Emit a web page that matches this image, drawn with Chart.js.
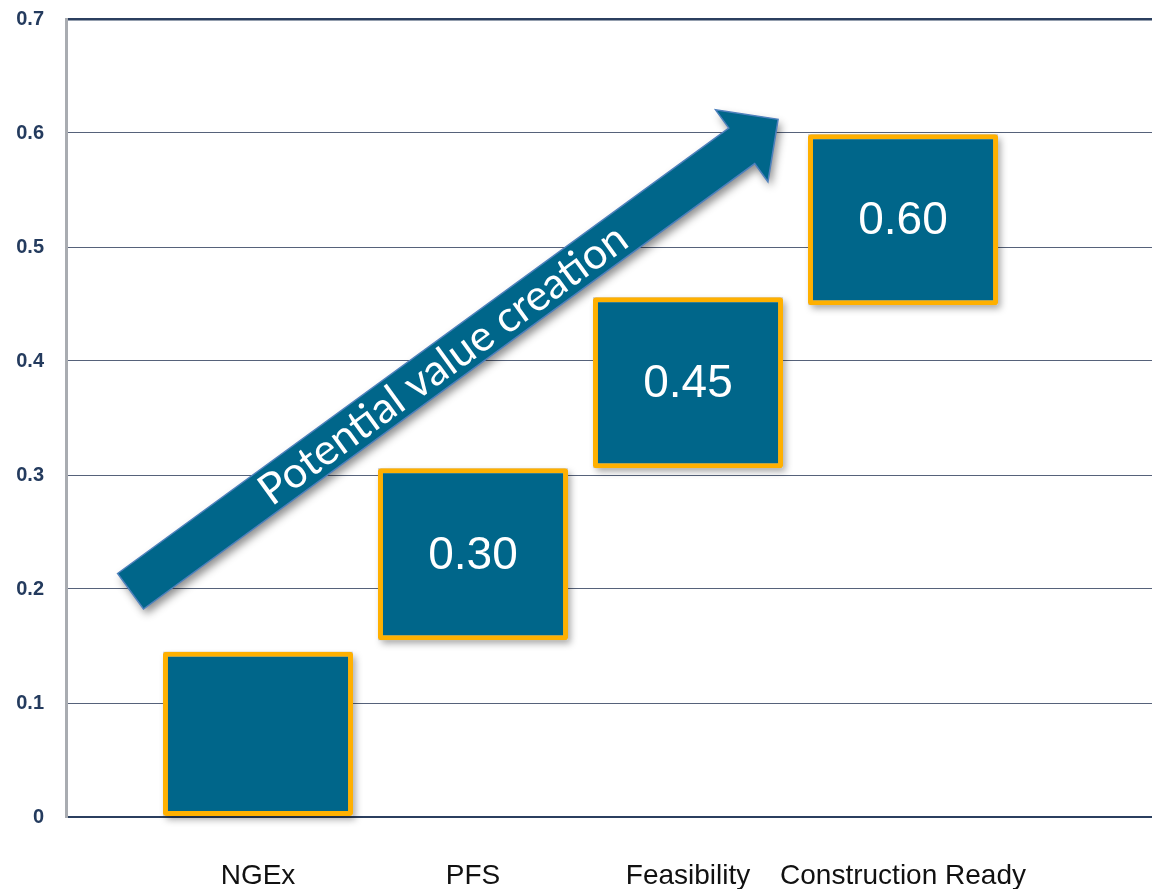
<!DOCTYPE html>
<html>
<head>
<meta charset="utf-8">
<script src="https://cdn.jsdelivr.net/npm/chart.js@4.4.1/dist/chart.umd.min.js"></script>
<style>
    html, body { margin: 0; padding: 0; background: #ffffff; }
    #wrap { width: 1152px; height: 889px; position: relative; }
</style>
</head>
<body>
<div id="wrap"><canvas id="stageChart"></canvas></div>
<script>
const categories = ['NGEx', 'PFS', 'Feasibility', 'Construction Ready'];
const barLows = [0, 0.155, 0.306, 0.449];
const barHighs = [0.145, 0.306, 0.456, 0.599];
const barLabels = ['', '0.30', '0.45', '0.60'];
const yTicks = [0, 0.1, 0.2, 0.3, 0.4, 0.5, 0.6, 0.7];

// arrow tail / tip in axis units (x = category index)
const arrowFrom = { x: -0.593, y: 0.198 };
const arrowTo = { x: 2.419, y: 0.612 };
const arrowText = 'Potential value creation';

const TEAL = '#00668a';

const barShadow = {
    id: 'barShadow',
    beforeDatasetsDraw(chart) {
        const ctx = chart.ctx;
        const meta = chart.getDatasetMeta(0);
        ctx.save();
        ctx.shadowColor = 'rgba(0,0,0,0.35)';
        ctx.shadowBlur = 7;
        ctx.shadowOffsetX = 3;
        ctx.shadowOffsetY = 4;
        ctx.fillStyle = '#d0d0d0';
        meta.data.forEach(el => {
            const { x, y, base, width } = el.getProps(['x', 'y', 'base', 'width'], true);
            ctx.fillRect(x - width / 2, Math.min(y, base), width, Math.abs(base - y));
        });
        ctx.restore();
    },
};

const barText = {
    id: 'barText',
    afterDatasetsDraw(chart) {
        const ctx = chart.ctx;
        const meta = chart.getDatasetMeta(0);
        ctx.save();
        ctx.fillStyle = '#ffffff';
        ctx.font = '46px Arial, "Liberation Sans", sans-serif';
        ctx.textAlign = 'center';
        ctx.textBaseline = 'middle';
        meta.data.forEach((el, i) => {
            const { x, y, base } = el.getProps(['x', 'y', 'base'], true);
            if (barLabels[i]) ctx.fillText(barLabels[i], x, (y + base) / 2 + 2);
        });
        ctx.restore();
    },
};

const valueArrow = {
    id: 'valueArrow',
    afterDatasetsDraw(chart) {
        const ctx = chart.ctx;
        const xs = chart.scales.x, ys = chart.scales.y;
        const x0 = xs.getPixelForValue(arrowFrom.x), y0 = ys.getPixelForValue(arrowFrom.y);
        const x1 = xs.getPixelForValue(arrowTo.x), y1 = ys.getPixelForValue(arrowTo.y);
        const len = Math.hypot(x1 - x0, y1 - y0);
        const ang = Math.atan2(y1 - y0, x1 - x0);
        const hw = 22, hh = 44.5, hl = 45;

        ctx.save();
        ctx.translate(x0, y0);
        ctx.rotate(ang);
        ctx.beginPath();
        ctx.moveTo(0, -hw);
        ctx.lineTo(len - hl, -hw);
        ctx.lineTo(len - hl, -hh);
        ctx.lineTo(len, 0);
        ctx.lineTo(len - hl, hh);
        ctx.lineTo(len - hl, hw);
        ctx.lineTo(0, hw);
        ctx.closePath();

        ctx.save();
        ctx.shadowColor = 'rgba(0,0,0,0.45)';
        ctx.shadowBlur = 8;
        ctx.shadowOffsetX = 3;
        ctx.shadowOffsetY = 5;
        ctx.fillStyle = TEAL;
        ctx.fill();
        ctx.restore();

        ctx.strokeStyle = '#4f81bd';
        ctx.lineWidth = 1.5;
        ctx.stroke();

        ctx.fillStyle = '#ffffff';
        ctx.font = '43px Lato, "Open Sans", sans-serif';
        ctx.textAlign = 'center';
        ctx.textBaseline = 'middle';
        ctx.fillText(arrowText, (len - hl) / 2 + 8, 1);
        ctx.restore();
    },
};

new Chart(document.getElementById('stageChart'), {
    type: 'bar',
    data: {
        datasets: [{
            data: categories.map((c, i) => ({ x: i, y: [barLows[i], barHighs[i]] })),
            backgroundColor: TEAL,
            borderColor: '#ffb000',
            borderWidth: 5,
            borderRadius: 3,
            borderSkipped: false,
            categoryPercentage: 1,
            barPercentage: 0.884,
        }],
    },
    options: {
        responsive: true,
        maintainAspectRatio: false,
        animation: false,
        layout: { padding: { top: 19, right: 0, left: 0, bottom: 0 } },
        plugins: {
            legend: { display: false },
            tooltip: { enabled: false },
        },
        scales: {
            x: {
                type: 'linear',
                offset: false,
                min: -0.893,
                max: 4.158,
                grid: { display: false },
                border: { display: false },
                afterBuildTicks: s => { s.ticks = categories.map((c, i) => ({ value: i })); },
                afterFit: s => { s.height = 72; },
                ticks: {
                    callback: v => categories[v],
                    autoSkip: false,
                    maxRotation: 0,
                    color: '#111111',
                    padding: 34,
                    font: { family: 'Arial, "Liberation Sans", sans-serif', size: 28 },
                },
            },
            y: {
                min: 0,
                max: 0.7,
                afterBuildTicks: s => { s.ticks = yTicks.map(v => ({ value: v })); },
                afterFit: s => { s.width = 66; s.paddingTop = 0; s.paddingBottom = 0; },
                grid: {
                    drawTicks: false,
                    color: c => (c.tick && (c.tick.value === 0 || c.tick.value === 0.7)) ? '#2b3f5f' : '#56627a',
                    lineWidth: c => (c.tick && c.tick.value === 0) ? 2 : (c.tick && c.tick.value === 0.7 ? 2.5 : 1),
                },
                border: { color: '#a9acb1', width: 3 },
                ticks: {
                    color: '#243b5e',
                    padding: 22,
                    font: { family: 'Arial, "Liberation Sans", sans-serif', size: 20, weight: 'bold' },
                },
            },
        },
    },
    plugins: [barShadow, barText, valueArrow],
});
</script>
</body>
</html>
